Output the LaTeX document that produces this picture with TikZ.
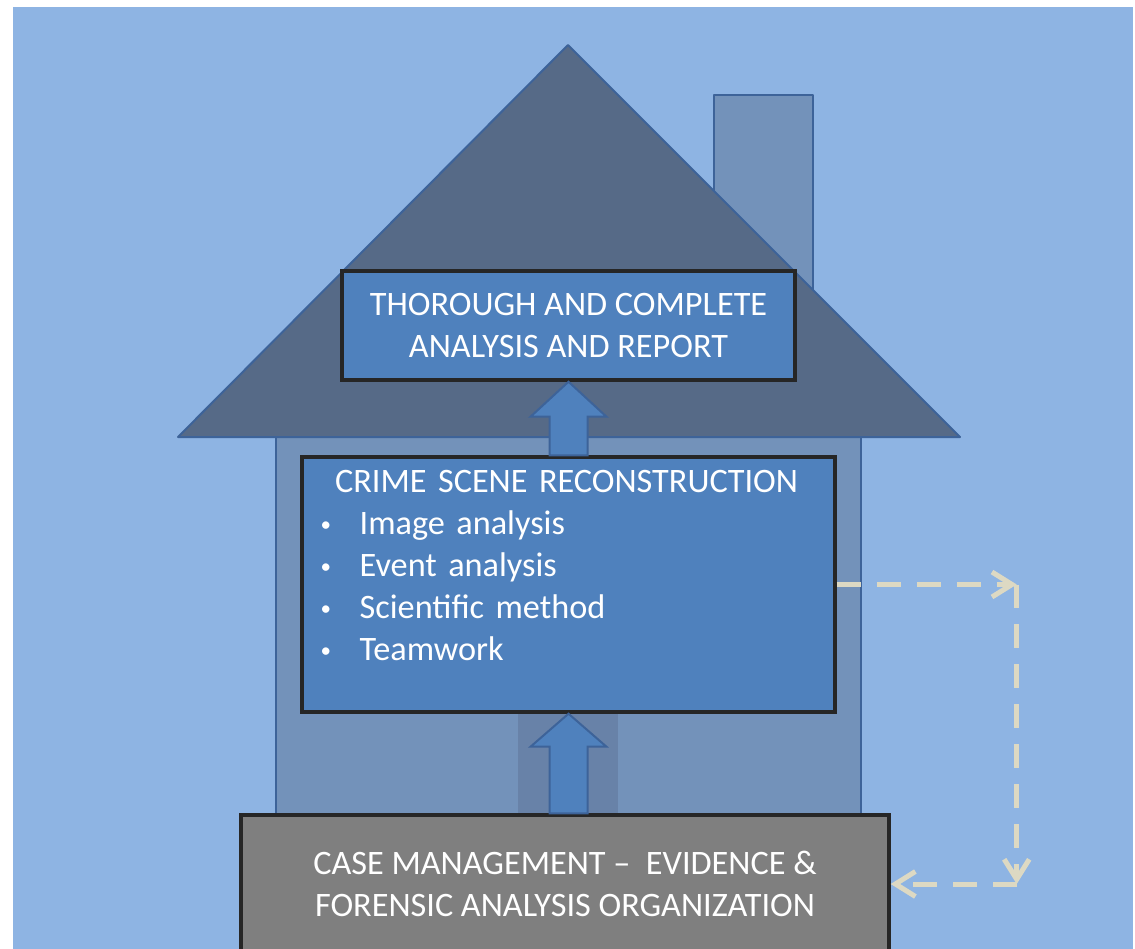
\documentclass[tikz,border=0pt]{standalone}
\usepackage{fontspec}
\setmainfont{Carlito}
\usetikzlibrary{positioning, calc, arrows.meta}
\definecolor{skyblue}{RGB}{142,180,227}
\definecolor{roofslate}{RGB}{86,106,135}
\definecolor{wallblue}{RGB}{115,146,186}
\definecolor{edgeblue}{RGB}{61,99,153}
\definecolor{doorblue}{RGB}{104,130,168}
\definecolor{boxblue}{RGB}{79,129,189}
\definecolor{boxgray}{RGB}{127,127,127}
\definecolor{sand}{RGB}{221,217,195}

% block arrow from tip (#1) straight back to the edge (#2), head length #3
\newcommand{\liftarrow}[3]{%
  \coordinate (liftbase) at (#1 |- #2);
  \filldraw[liftarrow] (#1) -- ($(#1)+(38,#3)$) -- ($(#1)+(19,#3)$) -- ($(liftbase)+(19,0)$)
    -- ($(liftbase)+(-19,0)$) -- ($(#1)+(-19,#3)$) -- ($(#1)+(-38,#3)$) -- cycle;}
\newcommand{\listdot}{\makebox[0.78cm][l]{\raisebox{0.1em}{\fontsize{12pt}{12pt}\selectfont\textbullet}}}

\begin{document}
\begin{tikzpicture}[
  x=0.02cm, y=-0.02cm,
  housepart/.style={draw=edgeblue, line width=0.04cm, line join=round},
  stepbox/.style={draw=black!85, line width=0.07cm, text=white, inner sep=0pt,
    font=\fontsize{19.5pt}{24pt}\selectfont, align=center},
  listtext/.style={text=white, inner sep=0pt, text width=9.84cm, align=left,
    font=\fontsize{19.5pt}{23.9pt}\selectfont},
  liftarrow/.style={fill=boxblue, draw=edgeblue, line width=0.04cm, line join=miter},
  dashlink/.style={draw=sand, line width=0.1cm, dash pattern=on 0.48cm off 0.32cm,
    -{Straight Barb[length=0.4cm, width=0.5cm, line width=0.1cm]}}
]
  \useasboundingbox (0,0) rectangle (1135,949);
  \clip (0,0) rectangle (1135,949);
  \fill[white] (0,0) rectangle (1135,949);
  \fill[skyblue] (13,7) rectangle (1133,949);

  % house: chimney, walls, door, roof
  \filldraw[housepart, fill=wallblue] (714,95) rectangle (813,400);
  \filldraw[housepart, fill=wallblue] (276,437) rectangle (861,840);
  \fill[doorblue] (518,700) rectangle (618,830);
  \filldraw[housepart, fill=roofslate] (568,45) -- (960,437) -- (178,437) -- cycle;

  % boxes
  \node[stepbox, fill=boxblue, minimum width=9.06cm, minimum height=2.18cm] (report) at (568.5,325.5)
    {THOROUGH AND COMPLETE\\ANALYSIS AND REPORT};
  \node[stepbox, fill=boxblue, minimum width=10.66cm, minimum height=5.1cm] (recon) at (568.5,584.5) {};
  \node[listtext, anchor=north west] (reconlist) at ($(recon.north west)+(20,15)$) {%
    \makebox[\linewidth]{CRIME SCENE RECONSTRUCTION}\\
    \listdot Image analysis\\
    \listdot Event analysis\\
    \listdot Scientific method\\
    \listdot Teamwork};
  \node[stepbox, fill=boxgray, minimum width=12.96cm, minimum height=2.76cm] (casemgmt) at (565,884)
    {CASE MANAGEMENT --\ \ EVIDENCE \&\\FORENSIC ANALYSIS ORGANIZATION};

  % block arrows
  \liftarrow{report.south}{recon.north}{35}
  \liftarrow{recon.south}{casemgmt.north}{33}

  % feedback loop
  \coordinate (turnA) at ($(recon.east)+(180,0)$);
  \coordinate (turnB) at (turnA |- casemgmt.east);
  \draw[dashlink] (recon.east) -- (turnA);
  \draw[dashlink] (turnA) -- (turnB);
  \draw[dashlink] (turnB) -- (casemgmt.east);
\end{tikzpicture}
\end{document}
